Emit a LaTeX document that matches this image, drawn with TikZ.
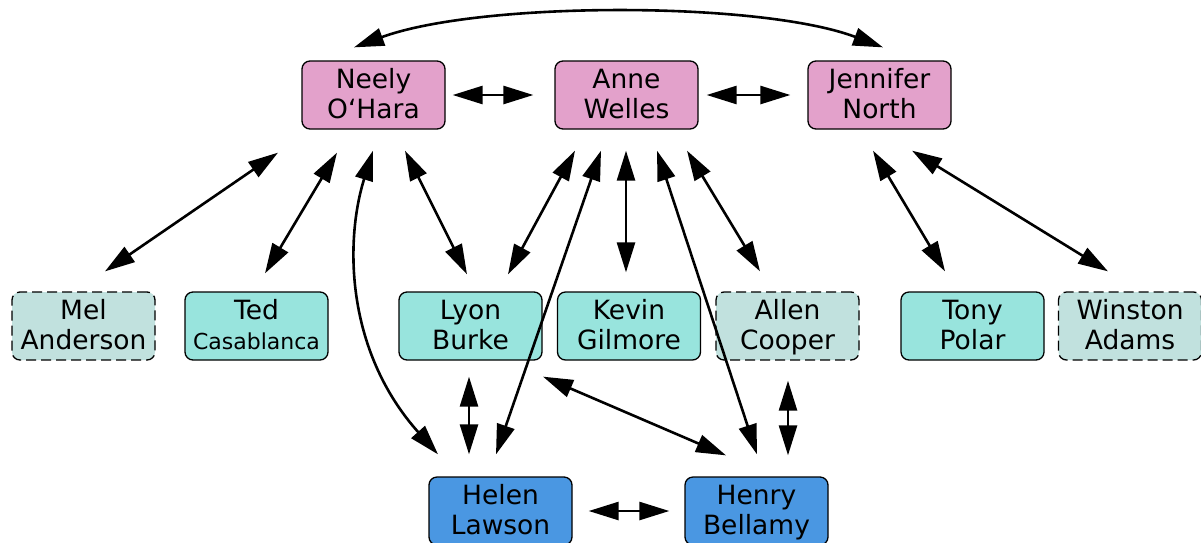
\documentclass[tikz,border=0pt]{standalone}
\usepackage{fontspec}
\newfontfamily\dv{DejaVu Sans}
\usetikzlibrary{arrows.meta}
\definecolor{pinkc}{HTML}{E3A1CB}
\definecolor{tealc}{HTML}{98E4DD}
\definecolor{lightc}{HTML}{C1E1DE}
\definecolor{bluec}{HTML}{4A97E2}
\newcommand\lnstrut{\rule[-7pt]{0pt}{30pt}}
\begin{document}
\begin{tikzpicture}[x=1pt,y=-1pt,
  box/.style={draw=black, line width=1.3pt, rounded corners=8pt, minimum width=143pt, minimum height=68pt, inner sep=0pt, align=center, font=\dv\fontsize{26.5}{30}\selectfont},
  topbox/.style={box, fill=pinkc},
  midbox/.style={box, fill=tealc},
  optbox/.style={box, fill=lightc, dash pattern=on 10pt off 5pt},
  botbox/.style={box, fill=bluec},
  link/.style={line width=2.6pt, {Triangle[length=30pt,width=18pt]}-{Triangle[length=30pt,width=18pt]}}]
\useasboundingbox (0,0) rectangle (1201,542);
% top row
\node[topbox] (neely) at (373.5,95) {Neely\lnstrut\\O‘Hara\lnstrut};
\node[topbox] (anne) at (626.5,95) {Anne\lnstrut\\Welles\lnstrut};
\node[topbox] (jennifer) at (879.5,95) {Jennifer\lnstrut\\North\lnstrut};
% middle row
\node[optbox] (mel) at (83.5,326) {Mel\lnstrut\\Anderson\lnstrut};
\node[midbox] (ted) at (256.5,326) {Ted\lnstrut\\{\fontsize{22}{30}\selectfont Casablanca}\lnstrut};
\node[midbox] (lyon) at (470.5,326) {Lyon\lnstrut\\Burke\lnstrut};
\node[midbox] (kevin) at (629,326) {Kevin\lnstrut\\Gilmore\lnstrut};
\node[optbox] (allen) at (787.5,326) {Allen\lnstrut\\Cooper\lnstrut};
\node[midbox] (tony) at (972.5,326) {Tony\lnstrut\\Polar\lnstrut};
\node[optbox] (winston) at (1130,326) {Winston\lnstrut\\Adams\lnstrut};
% bottom row
\node[botbox] (helen) at (500.5,511) {Helen\lnstrut\\Lawson\lnstrut};
\node[botbox] (henry) at (756.5,511) {Henry\lnstrut\\Bellamy\lnstrut};
% connectors
\draw[link] ([shift={(-19.5,-13)}]neely.north) .. controls (480,1) and (760,1) .. ([shift={(3.5,-13)}]jennifer.north);
\draw[link] ([shift={(7,0)}]neely.east) -- ([shift={(-21,0)}]anne.west);
\draw[link] ([shift={(8,0)}]anne.east) -- ([shift={(-17,0)}]jennifer.west);
\draw[link] ([shift={(-95.5,23)}]neely.south) -- ([shift={(21.5,-20)}]mel.north);
\draw[link] ([shift={(-36.5,23)}]neely.south) -- ([shift={(8.5,-18)}]ted.north);
\draw[link] ([shift={(-0.5,21)}]neely.south) .. controls (345,240) and (345,350) .. ([shift={(-62.5,-22)}]helen.north);
\draw[link] ([shift={(31.5,21)}]neely.south) -- ([shift={(-3.5,-17)}]lyon.north);
\draw[link] ([shift={(-51.5,21)}]anne.south) -- ([shift={(37.5,-17)}]lyon.north);
\draw[link] ([shift={(-25.5,21)}]anne.south) -- ([shift={(-4.5,-22)}]helen.north);
\draw[link] ([shift={(-0.5,21)}]anne.south) -- ([shift={(-3,-19)}]kevin.north);
\draw[link] ([shift={(30.5,21)}]anne.south) -- ([shift={(0.5,-22)}]henry.north);
\draw[link] ([shift={(60.5,21)}]anne.south) -- ([shift={(-27.5,-20)}]allen.north);
\draw[link] ([shift={(-6.5,21)}]jennifer.south) -- ([shift={(-27.5,-20)}]tony.north);
\draw[link] ([shift={(32.5,21)}]jennifer.south) -- ([shift={(-22,-20)}]winston.north);
\draw[link] ([shift={(-1.5,16)}]lyon.south) -- ([shift={(-31.5,-22)}]helen.north);
\draw[link] ([shift={(72.5,16)}]lyon.south) -- ([shift={(-30.5,-21)}]henry.north);
\draw[link] ([shift={(0.5,20)}]allen.south) -- ([shift={(31.5,-21)}]henry.north);
\draw[link] ([shift={(16,0)}]helen.east) -- ([shift={(-15,0)}]henry.west);
\end{tikzpicture}
\end{document}
